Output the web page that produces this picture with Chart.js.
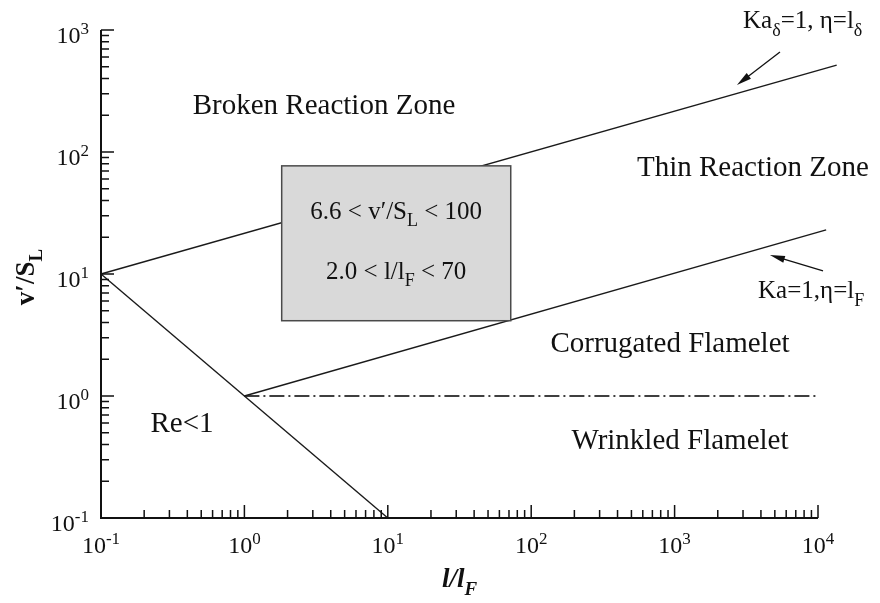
<!DOCTYPE html>
<html>
<head>
<meta charset="utf-8">
<style>
  html, body { margin: 0; padding: 0; background: #fff; }
  #chart { display: block; }
</style>
</head>
<body>
<canvas id="chart" width="880" height="603"></canvas>
<script src="https://cdn.jsdelivr.net/npm/chart.js@4/dist/chart.umd.min.js"></script>
<script>
// ----- Ticks -----
const xTicks = [0.1, 1, 10, 100, 1000, 10000];
const xTickExps = ['-1', '0', '1', '2', '3', '4'];
const yTicks = [0.1, 1, 10, 100, 1000];
const yTickExps = ['-1', '0', '1', '2', '3'];
const minorSteps = [2, 3, 4, 5, 6, 7, 8, 9];

// ----- Regime boundaries -----
const kaDeltaX = [0.1, 13500];
const kaDeltaY = [10, 516];
const kaOneX = [1, 11400];
const kaOneY = [1, 23];
const reOneX = [0.1, 10];
const reOneY = [10, 0.1];
const flameletX = [1, 10000];
const flameletY = [1, 1];

// ----- Shaded box of the experiments -----
const boxX = [1.82, 72];
const boxY = [4.14, 77];

// ----- Zone labels : text, x, y (baseline) -----
const zoneNames = ['Broken Reaction Zone', 'Thin Reaction Zone', 'Corrugated Flamelet', 'Wrinkled Flamelet', 'Re<1'];
const zoneX = [3.59, 3520, 929, 1090, 0.367];
const zoneY = [205, 63.5, 2.3, 0.368, 0.507];

// ----- Arrows pointing at the lines -----
const arrowTailX = [5430, 10840];
const arrowTailY = [661, 10.6];
const arrowTipX = [2720, 4620];
const arrowTipY = [354, 14.3];
const noteX = [3000, 3820];
const noteY = [1038, 6.35];

const SERIF = '"Liberation Serif", "Times New Roman", serif';
const INK = '#111';

function pts(xs, ys) {
  return xs.map((x, i) => ({ x: x, y: ys[i] }));
}

// runs : [text, mode]  mode 0 normal, 1 subscript, -1 superscript
function drawRuns(ctx, runs, x, y, size, style, align) {
  const parts = runs.map(r => {
    const s = r[1] === 0 ? size : Math.round(size * 0.7);
    const font = style + ' ' + s + 'px ' + SERIF;
    ctx.font = font;
    return { t: r[0], font: font, w: ctx.measureText(r[0]).width, dy: r[1] === 1 ? size * 0.3 : (r[1] === -1 ? -size * 0.36 : 0) };
  });
  const total = parts.reduce((a, p) => a + p.w, 0);
  let cx = align === 'center' ? x - total / 2 : (align === 'right' ? x - total : x);
  ctx.textAlign = 'left';
  ctx.textBaseline = 'alphabetic';
  parts.forEach(p => {
    ctx.font = p.font;
    ctx.fillText(p.t, cx, y + p.dy);
    cx += p.w;
  });
  return total;
}

function arrow(ctx, x0, y0, x1, y1) {
  const a = Math.atan2(y1 - y0, x1 - x0);
  const len = 15, half = 3.5;
  ctx.beginPath();
  ctx.moveTo(x0, y0);
  ctx.lineTo(x1 - Math.cos(a) * len * 0.8, y1 - Math.sin(a) * len * 0.8);
  ctx.stroke();
  ctx.beginPath();
  ctx.moveTo(x1, y1);
  ctx.lineTo(x1 - Math.cos(a) * len - Math.sin(a) * half, y1 - Math.sin(a) * len + Math.cos(a) * half);
  ctx.lineTo(x1 - Math.cos(a) * len + Math.sin(a) * half, y1 - Math.sin(a) * len - Math.cos(a) * half);
  ctx.closePath();
  ctx.fill();
}

// --- overlay : box, axes with inward ticks, labels ---
const overlay = {
  id: 'overlay',
  afterDatasetsDraw(chart) {
    const ctx = chart.ctx;
    const xs = chart.scales.x;
    const ys = chart.scales.y;
    const area = chart.chartArea;
    ctx.save();

    // box drawn over the lines
    const bx0 = xs.getPixelForValue(boxX[0]);
    const bx1 = xs.getPixelForValue(boxX[1]);
    const by0 = ys.getPixelForValue(boxY[1]);
    const by1 = ys.getPixelForValue(boxY[0]);
    ctx.fillStyle = '#d9d9d9';
    ctx.fillRect(bx0, by0, bx1 - bx0, by1 - by0);
    ctx.strokeStyle = '#4a4a4a';
    ctx.lineWidth = 1.5;
    ctx.strokeRect(bx0, by0, bx1 - bx0, by1 - by0);
    ctx.fillStyle = INK;
    const bcx = (bx0 + bx1) / 2;
    drawRuns(ctx, [['6.6 < v\u2032/S', 0], ['L', 1], [' < 100', 0]], bcx, by0 + 53, 25, 'normal', 'center');
    drawRuns(ctx, [['2.0 < l/l', 0], ['F', 1], [' < 70', 0]], bcx, by0 + 113, 25, 'normal', 'center');

    // axes
    ctx.strokeStyle = INK;
    ctx.lineWidth = 2;
    ctx.beginPath();
    ctx.moveTo(area.left, area.top);
    ctx.lineTo(area.left, area.bottom);
    ctx.lineTo(area.right, area.bottom);
    ctx.stroke();

    ctx.lineWidth = 1.5;
    ctx.beginPath();
    xTicks.forEach((d, i) => {
      const px = xs.getPixelForValue(d);
      ctx.moveTo(px, area.bottom);
      ctx.lineTo(px, area.bottom - 13);
      if (i < xTicks.length - 1) {
        minorSteps.forEach(k => {
          const mx = xs.getPixelForValue(d * k);
          ctx.moveTo(mx, area.bottom);
          ctx.lineTo(mx, area.bottom - 8);
        });
      }
    });
    yTicks.forEach((d, i) => {
      const py = ys.getPixelForValue(d);
      ctx.moveTo(area.left, py);
      ctx.lineTo(area.left + 13, py);
      if (i < yTicks.length - 1) {
        minorSteps.forEach(k => {
          const my = ys.getPixelForValue(d * k);
          ctx.moveTo(area.left, my);
          ctx.lineTo(area.left + 8, my);
        });
      }
    });
    ctx.stroke();

    // tick labels
    ctx.fillStyle = INK;
    xTicks.forEach((d, i) => {
      const px = xs.getPixelForValue(d);
      drawRuns(ctx, [['10', 0], [xTickExps[i], -1]], px, area.bottom + 35, 24, 'normal', 'center');
    });
    yTicks.forEach((d, i) => {
      const py = ys.getPixelForValue(d);
      drawRuns(ctx, [['10', 0], [yTickExps[i], -1]], area.left - 12, py + 13, 24, 'normal', 'right');
    });

    // axis titles
    ctx.save();
    ctx.translate(34, (area.top + area.bottom) / 2 + 3);
    ctx.rotate(-Math.PI / 2);
    drawRuns(ctx, [['v\u2032/S', 0], ['L', 1]], 0, 0, 27, 'bold', 'center');
    ctx.restore();
    drawRuns(ctx, [['l/l', 0], ['F', 1]], (area.left + area.right) / 2, 587, 27, 'italic bold', 'center');

    // zone labels
    zoneNames.forEach((t, i) => {
      drawRuns(ctx, [[t, 0]], xs.getPixelForValue(zoneX[i]), ys.getPixelForValue(zoneY[i]), 29, 'normal', 'center');
    });

    // line notes and arrows
    drawRuns(ctx, [['Ka', 0], ['\u03b4', 1], ['=1, \u03b7=l', 0], ['\u03b4', 1]],
      xs.getPixelForValue(noteX[0]), ys.getPixelForValue(noteY[0]), 25, 'normal', 'left');
    drawRuns(ctx, [['Ka=1,\u03b7=l', 0], ['F', 1]],
      xs.getPixelForValue(noteX[1]), ys.getPixelForValue(noteY[1]), 25, 'normal', 'left');
    ctx.lineWidth = 1.3;
    arrowTailX.forEach((x, i) => {
      arrow(ctx, xs.getPixelForValue(x), ys.getPixelForValue(arrowTailY[i]),
        xs.getPixelForValue(arrowTipX[i]), ys.getPixelForValue(arrowTipY[i]));
    });

    ctx.restore();
  }
};

const lineStyle = {
  showLine: true,
  borderColor: '#1a1a1a',
  borderWidth: 1.4,
  pointRadius: 0,
  fill: false,
  clip: false
};

new Chart(document.getElementById('chart'), {
  type: 'scatter',
  data: {
    datasets: [
      { ...lineStyle, label: 'Ka_delta = 1', data: pts(kaDeltaX, kaDeltaY) },
      { ...lineStyle, label: 'Ka = 1', data: pts(kaOneX, kaOneY) },
      { ...lineStyle, label: 'Re = 1', data: pts(reOneX, reOneY) },
      { ...lineStyle, label: "v'/S_L = 1", data: pts(flameletX, flameletY), borderDash: [15, 4, 2, 4], borderColor: '#000' }
    ]
  },
  options: {
    responsive: false,
    animation: false,
    layout: { padding: { left: 101, right: 62, top: 30, bottom: 85 } },
    plugins: { legend: { display: false }, tooltip: { enabled: false } },
    scales: {
      x: { type: 'logarithmic', min: 0.1, max: 10000, display: false },
      y: { type: 'logarithmic', min: 0.1, max: 1000, display: false }
    }
  },
  plugins: [overlay]
});
</script>
</body>
</html>
